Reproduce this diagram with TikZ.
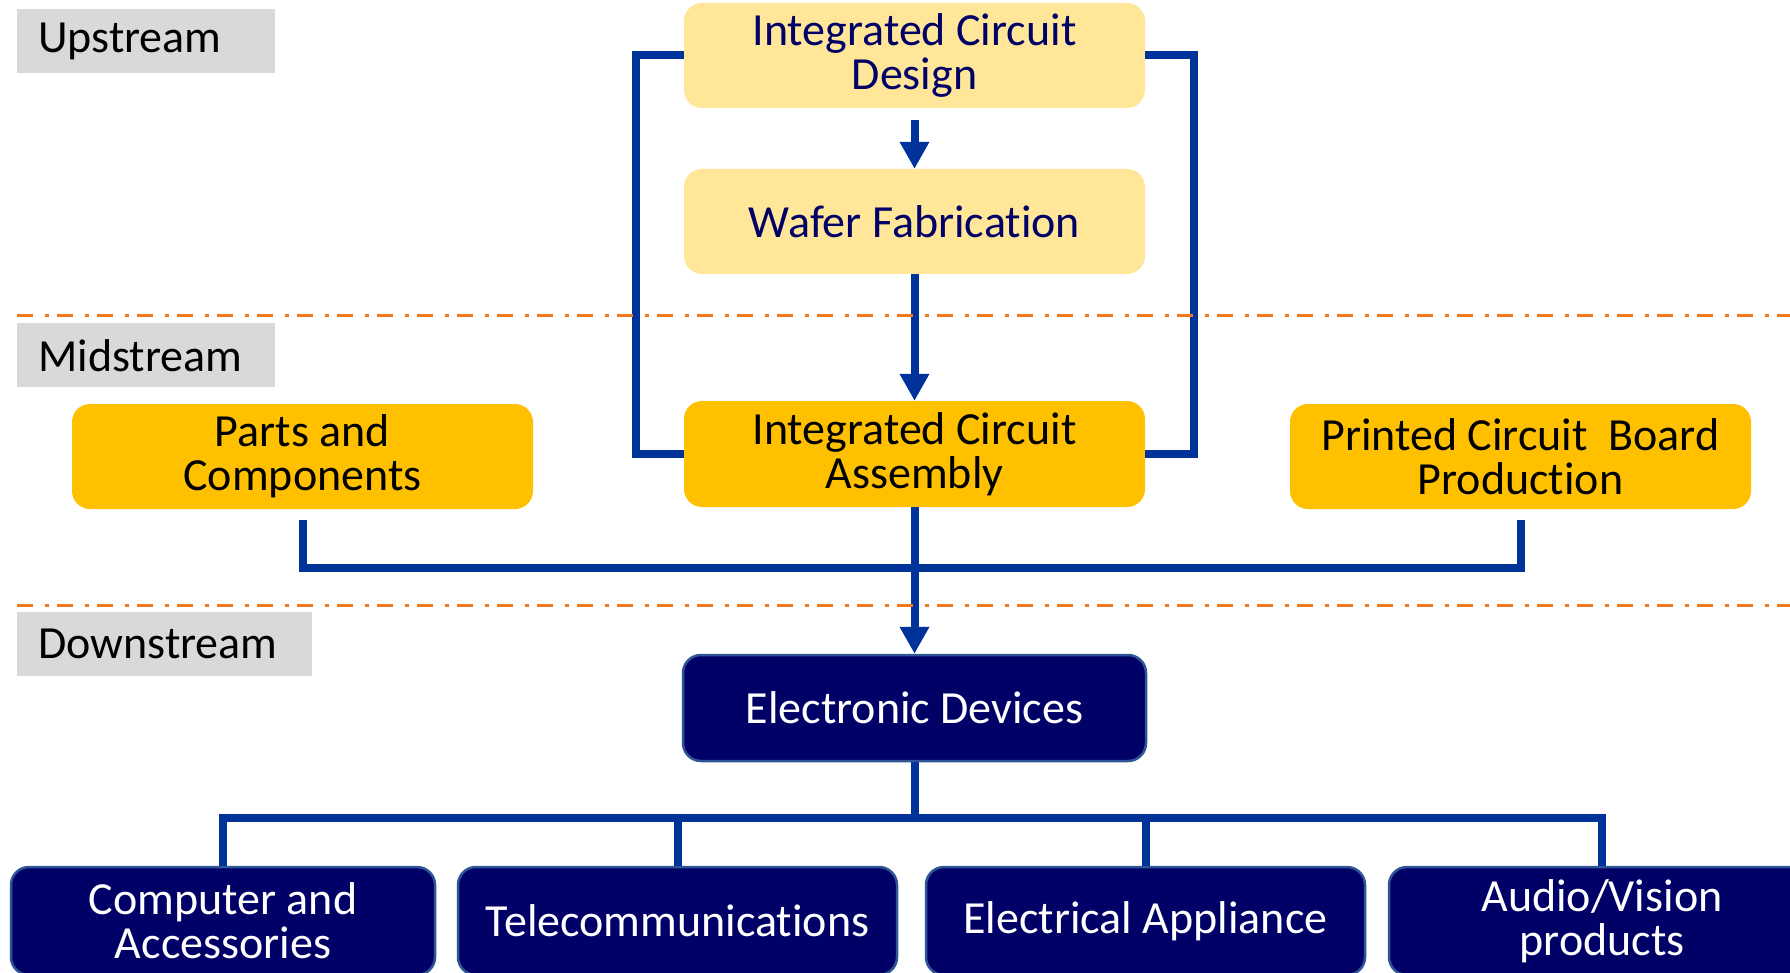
\documentclass[tikz,border=0pt]{standalone}
\usepackage{fontspec}
\setmainfont{Carlito}[Ligatures=NoCommon]
\usetikzlibrary{arrows.meta}
\definecolor{navy}{RGB}{0,0,102}
\definecolor{lineblue}{RGB}{0,51,153}
\definecolor{lightyel}{RGB}{255,230,153}
\definecolor{gold}{RGB}{255,192,0}
\definecolor{labgray}{RGB}{217,217,217}
\definecolor{divorange}{RGB}{240,120,30}
\definecolor{navyedge}{RGB}{47,85,151}
\begin{document}
\begin{tikzpicture}[x=1pt,y=-1pt,
 every node/.style={font=\fontsize{46pt}{44pt}\selectfont},
 box/.style={rounded corners=18pt, minimum width=461pt, minimum height=105pt, align=center, inner sep=0pt},
 upbox/.style={box, fill=lightyel, text=navy},
 midbox/.style={box, fill=gold, text=black},
 downbox/.style={box, fill=navy, draw=navyedge, line width=2.5pt, text=white},
 stage/.style={fill=labgray, anchor=north west, minimum height=64pt, inner xsep=21pt, inner ysep=0pt, align=left},
 conn/.style={draw=lineblue, line width=8pt},
 flow/.style={conn, -{Triangle[width=28pt,length=27pt]}},
 divider/.style={draw=divorange, line width=3pt, dash pattern=on 16pt off 12pt on 4pt off 8pt}
]
\useasboundingbox (0,0) rectangle (1790,973);
\clip (0,0) rectangle (1790,973);
\fill[white] (0,0) rectangle (1790,973);

% stage labels
\node[stage, text width=216pt] (up) at (17,9) {Upstream};
\node[stage, text width=216pt] (mid) at (17,323) {Midstream};
\node[stage, text width=253pt] (down) at (17,612) {Downstream};

% boxes
\node[upbox] (design) at (914.5,55.5) {Integrated Circuit\\Design};
\node[upbox] (wafer) at (914.5,221.5) {Wafer Fabrication};
\node[midbox, minimum height=106pt] (assembly) at (914.5,454) {Integrated Circuit\\Assembly};
\node[midbox] (parts) at (302.5,456.5) {Parts and\\Components};
\node[midbox] (pcb) at (1520.5,456.5) {Printed Circuit\ \ Board\\Production};
\node[downbox, minimum width=463pt, minimum height=106pt] (devices) at (914.5,708) {Electronic Devices};
\node[downbox, minimum width=424pt, minimum height=108pt] (computer) at (223,921) {Computer and\\Accessories};
\node[downbox, minimum width=439pt, minimum height=108pt] (telecom) at (677.5,921) {Telecommunications};
\node[downbox, minimum width=439pt, minimum height=108pt] (electrical) at (1145.5,921) {Electrical Appliance};
\node[downbox, minimum width=426pt, minimum height=108pt] (audio) at (1602,921) {Audio/Vision\\products};

% connectors
\draw[flow] ([yshift=-12pt]design.south) -- (wafer.north);
\draw[flow] (wafer.south) -- (assembly.north);
\draw[conn] (design.west) -- ++(-48,0) |- (assembly.west);
\draw[conn] (design.east) -- ++(49,0) |- (assembly.east);
\draw[conn] ([yshift=-11pt]parts.south) -- ++(0,48) -| ([yshift=-11pt]pcb.south);
\draw[flow] (assembly.south) -- (devices.north);
\draw[conn] (devices.south) -- ++(0,56) coordinate (bus);
\draw[conn] (computer.north) |- (bus) -| (audio.north);
\draw[conn] (telecom.north) -- (telecom.north |- bus);
\draw[conn] (electrical.north) -- (electrical.north |- bus);

% dividers
\draw[divider] (17,316) -- (1790,316);
\draw[divider] (17,605) -- (1790,605);
\end{tikzpicture}
\end{document}
